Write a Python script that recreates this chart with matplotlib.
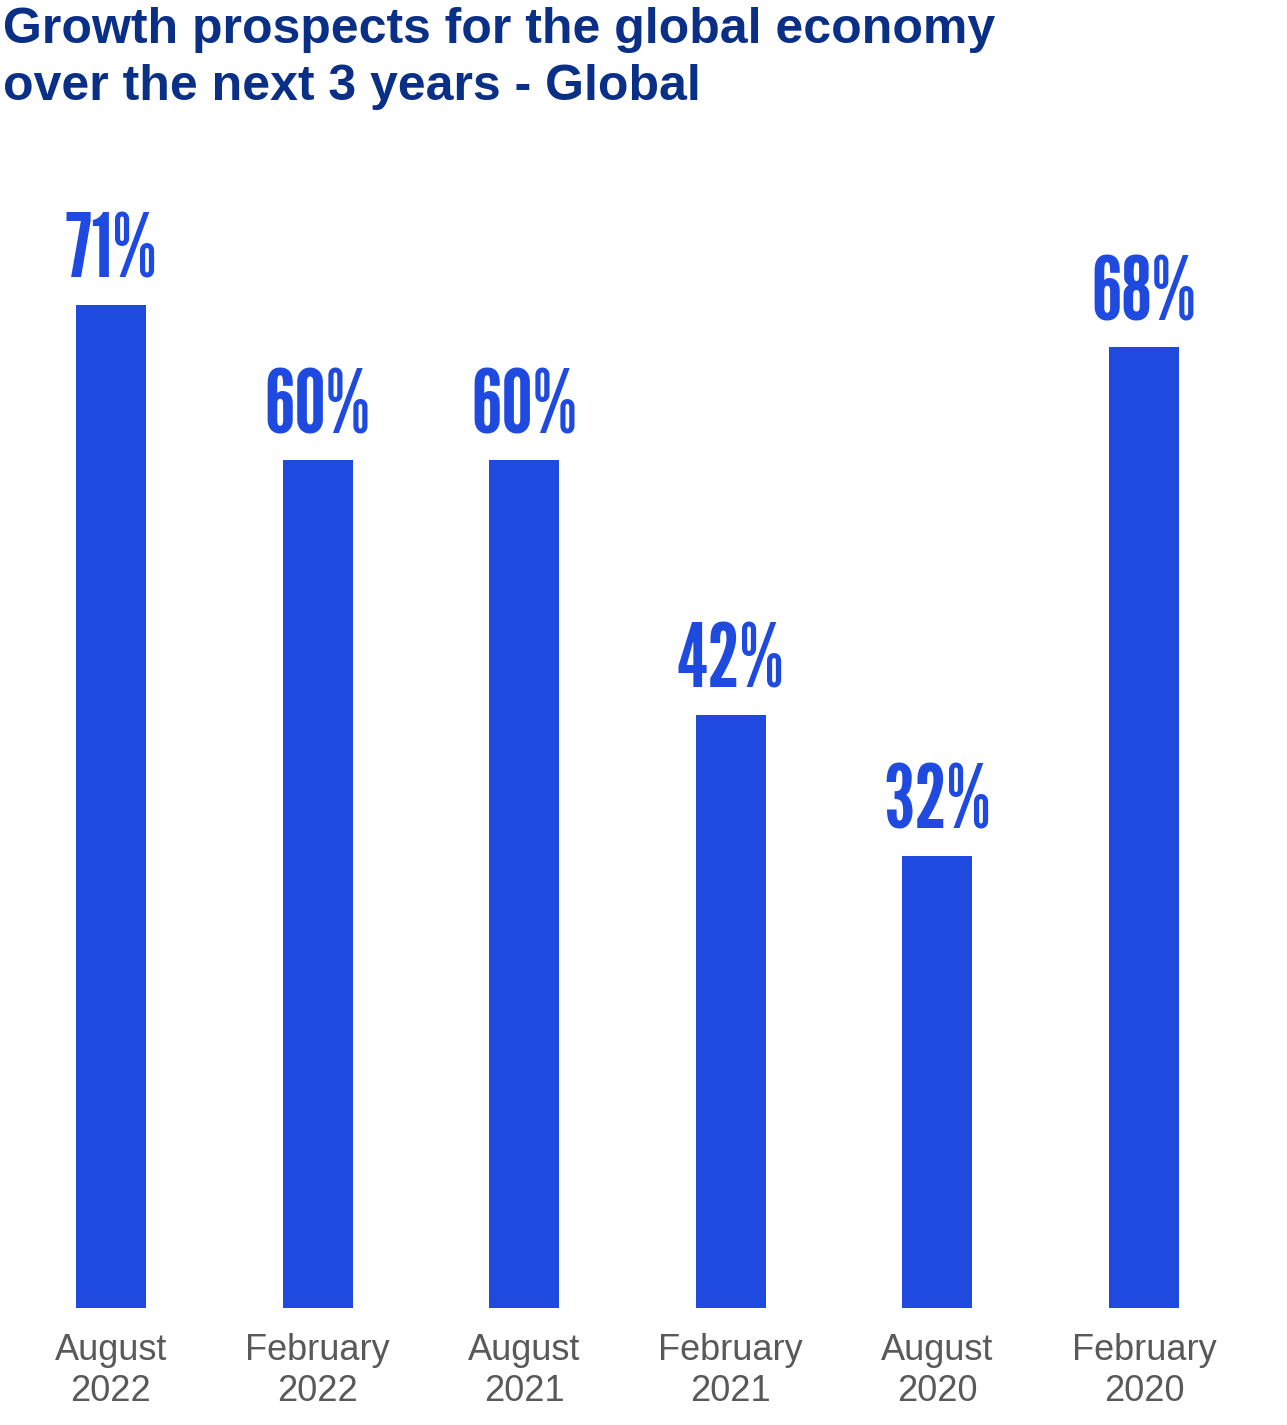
import matplotlib
matplotlib.use("Agg")
import matplotlib.pyplot as plt

# survey waves, newest first
periods = ["August\n2022", "February\n2022", "August\n2021",
           "February\n2021", "August\n2020", "February\n2020"]
share_pct = [71, 60, 60, 42, 32, 68]

title = "Growth prospects for the global economy\nover the next 3 years - Global"

bar_col = "#1F4AE0"
title_col = "#0A2F87"
tick_col = "#595959"

W, H = 1287, 1425
fig = plt.figure(figsize=(W / 100, H / 100), dpi=100)

# axes placed in pixel terms: bar pitch ~206.6px, baseline at y=1308
left = 7.7 / W
width = 1239.6 / W
bottom = (H - 1308) / H
height = 80 * 14.13 / H
ax = fig.add_axes([left, bottom, width, height])

x = list(range(len(periods)))
bars = ax.bar(x, share_pct, width=0.339, color=bar_col)
ax.set_xlim(-0.5, len(periods) - 0.5)
ax.set_ylim(0, 80)

for b, v in zip(bars, share_pct):
    ax.annotate(f"{v}%", (b.get_x() + b.get_width() / 2, v),
                xytext=(0, 19.5), textcoords="offset points",
                ha="center", va="baseline", color=bar_col,
                fontsize=64, family=["League Gothic", "DejaVu Sans"])

ax.set_xticks(x)
ax.set_xticklabels(periods, fontsize=26, color=tick_col,
                   family=["Liberation Sans", "DejaVu Sans"], linespacing=1.24)
ax.tick_params(axis="x", length=0, pad=18)
ax.set_yticks([])
for s in ax.spines.values():
    s.set_visible(False)

fig.text(3 / W, 1 - 7 / H, title, ha="left", va="top", fontsize=36,
         fontweight="bold", color=title_col, linespacing=1.3,
         family=["Liberation Sans", "DejaVu Sans"])

fig.savefig("out.png", dpi=100)
